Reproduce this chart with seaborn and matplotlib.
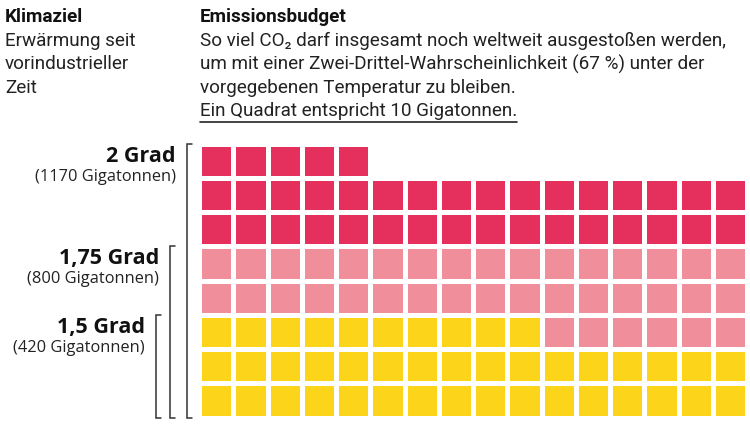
import numpy as np
import pandas as pd
import matplotlib
matplotlib.use("Agg")
import matplotlib.pyplot as plt
from matplotlib.colors import ListedColormap
from matplotlib.transforms import blended_transform_factory
import seaborn as sns

# ---- data ----
goals = ["1,5 Grad", "1,75 Grad", "2 Grad"]
budgets_gt = [420, 800, 1170]          # cumulative budgets in gigatonnes
colors = ["#FCD419", "#F08F9B", "#E5305E"]
gt_per_square = 10
n_cols = 16

header_left = ["Erwärmung seit", "vorindustrieller", "Zeit"]
header_right = ["So viel CO₂ darf insgesamt noch weltweit ausgestoßen werden,",
                "um mit einer Zwei-Drittel-Wahrscheinlichkeit (67 %) unter der",
                "vorgegebenen Temperatur zu bleiben."]
note = "Ein Quadrat entspricht 10 Gigatonnen."

# ---- build waffle grid (filled bottom-up, left-to-right) ----
squares = [b // gt_per_square for b in budgets_gt]
total = squares[-1]
n_rows = int(np.ceil(total / n_cols))
flat = np.full(n_rows * n_cols, np.nan)
start = 0
for k, s in enumerate(squares):
    flat[start:s] = k
    start = s
grid = flat.reshape(n_rows, n_cols)[::-1]   # row 0 at top
df = pd.DataFrame(grid)

sns.set_theme(style="white")
plt.rcParams["font.family"] = ["Roboto", "DejaVu Sans"]

W, H = 750, 430
fig = plt.figure(figsize=(7.5, 4.3), dpi=100)
fig.patch.set_facecolor("white")

ax = fig.add_axes([199 / W, 1 - 417.5 / H, 548 / W, (417.5 - 143.5) / H])
sns.heatmap(df, ax=ax, cmap=ListedColormap(colors), vmin=-0.5, vmax=2.5,
            cbar=False, linewidths=2.2, linecolor="white",
            mask=df.isna(), xticklabels=False, yticklabels=False)
ax.set_xlabel("")
ax.set_ylabel("")
for s in ax.spines.values():
    s.set_visible(False)

# ---- header texts ----
def fy(px):
    return 1 - px / H

hfont = ["Roboto", "DejaVu Sans"]
renderer = fig.canvas.get_renderer()
probe = fig.text(0, 0, header_right[0], fontsize=12, family=hfont)
w_probe = probe.get_window_extent(renderer).width
probe.remove()
hsize = 12 * 525 / w_probe
hsize = min(hsize, 13.6)

fig.text(5 / W, fy(21.5), "Klimaziel", fontsize=hsize, fontweight="bold",
         family=hfont, va="baseline", color="#111111")
fig.text(200 / W, fy(21.5), "Emissionsbudget", fontsize=hsize, fontweight="bold",
         family=hfont, va="baseline", color="#111111")
line_gap = 23.5
for i, t in enumerate(header_left):
    fig.text(5 / W, fy(46 + i * line_gap), t, fontsize=hsize, family=hfont,
             va="baseline", color="#222222")
for i, t in enumerate(header_right):
    fig.text(200 / W, fy(46 + i * line_gap), t, fontsize=hsize, family=hfont,
             va="baseline", color="#222222")
nt = fig.text(200 / W, fy(46 + 3 * line_gap), note, fontsize=hsize, family=hfont,
              va="baseline", color="#222222")
fig.canvas.draw()
bb = nt.get_window_extent()
fig.add_artist(plt.Line2D([bb.x0 / W, bb.x1 / W], [fy(122), fy(122)],
                          color="#222222", lw=1.2))

# ---- brackets and labels ----
tr = blended_transform_factory(fig.transFigure, ax.transData)
bracket_x = [156, 170, 187]   # pixel x for 1.5, 1.75, 2
lfont = ["Open Sans", "DejaVu Sans"]
for k, (g, b, s) in enumerate(zip(goals, budgets_gt, squares)):
    rows_used = int(np.ceil(s / n_cols))
    top = n_rows - rows_used
    bx = bracket_x[k] / W
    stub = 5 / W
    ax.plot([bx + stub, bx, bx, bx + stub], [top, top, n_rows, n_rows],
            color="#333333", lw=1.1, transform=tr, clip_on=False,
            solid_joinstyle="miter")
    top_px = 144 + top * (417 - 144) / n_rows
    rx = (bracket_x[k] - 11) / W
    fig.text(rx, fy(top_px + 18), g, fontsize=15.5, fontweight="bold",
             family=lfont, ha="right", va="baseline", color="#111111")
    fig.text(rx, fy(top_px + 18 + 19), f"({b} Gigatonnen)", fontsize=11.8,
             family=lfont, ha="right", va="baseline", color="#222222")

fig.savefig("out.png", dpi=100, facecolor="white")
